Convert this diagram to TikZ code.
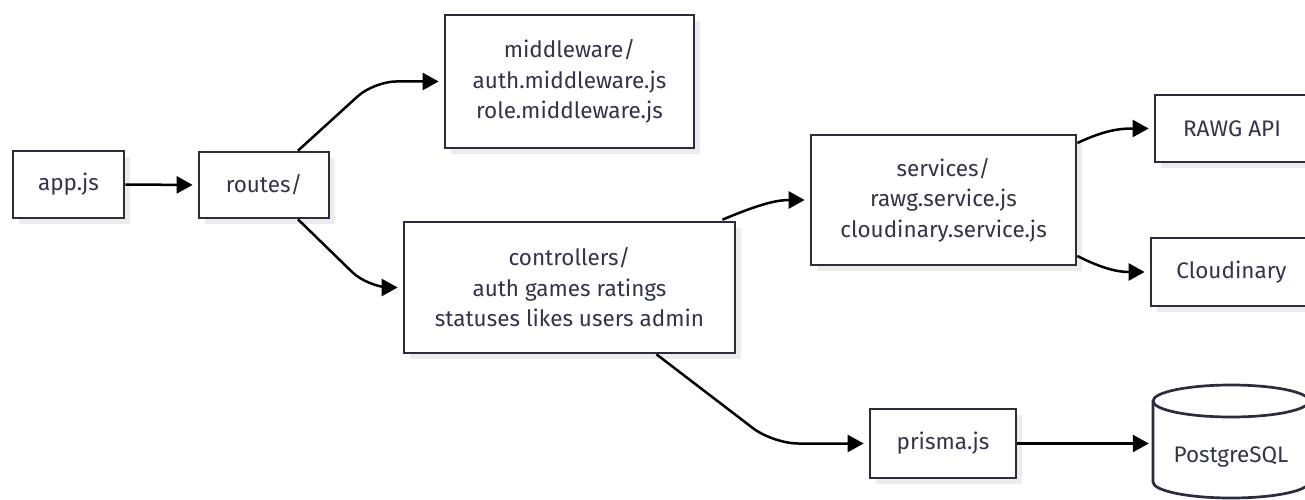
\documentclass[tikz,border=0pt]{standalone}
\usepackage{fontspec}
\setmainfont{Fira Sans}
\usetikzlibrary{arrows.meta,shadows,calc}
\definecolor{boxline}{HTML}{2B2D3F}
\definecolor{txtcol}{HTML}{33344A}
\definecolor{shadowgray}{HTML}{ECECEC}
\tikzset{
  box/.style={draw=boxline, line width=2.7pt, fill=white, text=txtcol, align=center,
    inner sep=0pt, font=\fontsize{22.5pt}{30.5pt}\selectfont,
    drop shadow={shadow xshift=6pt, shadow yshift=-6pt, fill=shadowgray, opacity=1}},
  txt/.style={text=txtcol, inner sep=0pt, font=\fontsize{22.5pt}{30.5pt}\selectfont},
  arr/.style={draw=black, line width=2.5pt, -{Triangle[length=16pt,width=17pt]}, shorten >=5pt},
}
\begin{document}
\begin{tikzpicture}[x=1pt,y=-1pt]
\useasboundingbox (0,0) rectangle (1305,500);
\clip (0,0) rectangle (1305,500);
\node[box, minimum width=111pt, minimum height=67pt] (app) at (68.5,184.5) {app.js};
\node[box, minimum width=130pt, minimum height=66pt] (routes) at (264,185) {routes/};
\node[box, minimum width=249pt, minimum height=133pt] (mw) at (569.5,81.5) {middleware/\\auth.middleware.js\\role.middleware.js};
\node[box, minimum width=331pt, minimum height=131pt] (ctrl) at (569.5,287.5) {controllers/\\auth games ratings\\statuses likes users admin};
\node[box, minimum width=265pt, minimum height=130pt] (svc) at (943.5,200) {services/\\rawg.service.js\\cloudinary.service.js};
\node[box, minimum width=154pt, minimum height=67pt] (rawg) at (1232,128.5) {RAWG API};
\node[box, minimum width=161pt, minimum height=68pt] (cloud) at (1231.5,272) {Cloudinary};
\node[box, minimum width=146pt, minimum height=69pt] (prisma) at (943,443.5) {prisma.js};
% database cylinder
\node[minimum width=156pt, minimum height=113pt, inner sep=0pt] (db) at (1231,441.5) {};
\draw[draw=boxline, line width=2.7pt, fill=white]
  (1153,401) -- (1153,482) arc[start angle=180, end angle=0, x radius=78, y radius=16] -- (1309,401);
\draw[draw=boxline, line width=2.7pt, fill=white] (1231,401) ellipse [x radius=78, y radius=16];
\node[txt] (dblabel) at (1231,457) {PostgreSQL};
% connectors
\draw[arr] (app.east) -- (routes.west);
\draw[arr, rounded corners=22pt] ([xshift=34pt]routes.north) -- (374,0 |- mw.west) -- (mw.west);
\draw[arr, rounded corners=22pt] ([xshift=34pt]routes.south) -- (368,0 |- ctrl.west) -- (ctrl.west);
\draw[arr] ([xshift=153pt,yshift=1pt]ctrl.north) .. controls (762,203) and (778,200) .. (svc.west);
\draw[arr] ([yshift=57pt]svc.east) .. controls (1105,130) and (1120,128.5) .. (rawg.west);
\draw[arr] ([yshift=-56pt]svc.east) .. controls (1105,270) and (1120,272) .. (cloud.west);
\draw[arr, rounded corners=25pt] ([xshift=87pt]ctrl.south) -- (773,0 |- prisma.west) -- (prisma.west);
\draw[arr, shorten >=4pt] (prisma.east) -- (prisma.east -| db.west);
\end{tikzpicture}
\end{document}
